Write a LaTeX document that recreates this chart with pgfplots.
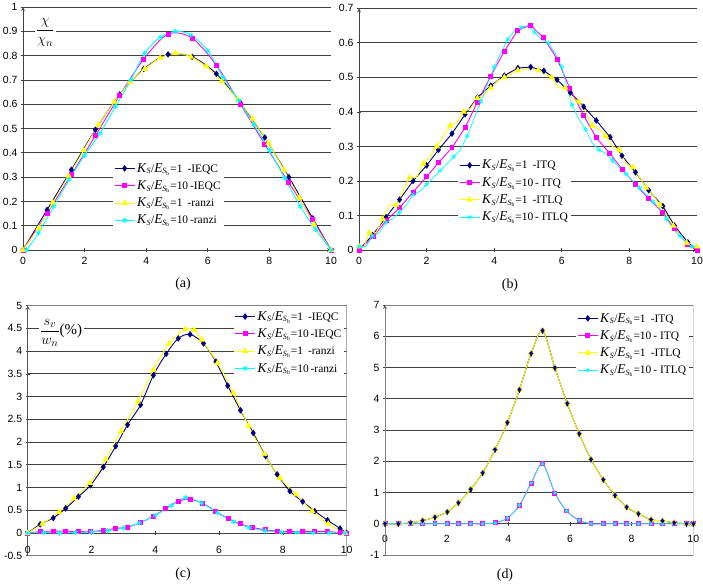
\documentclass[border=0pt]{standalone}
\usepackage{fontspec}
\setmainfont{Liberation Serif}
\setsansfont{Liberation Sans}
\usepackage{pgfplots}
\pgfplotsset{compat=1.18}
\definecolor{navyc}{RGB}{0,0,128}
\definecolor{magc}{RGB}{255,0,255}
\definecolor{yelc}{RGB}{255,255,0}
\definecolor{cyac}{RGB}{0,255,255}
\newcommand{\KE}[2]{{\fontsize{13.5}{14}\selectfont\textit{K}}\textsubscript{\textit{S}}/{\fontsize{13.5}{14}\selectfont\textit{E}}\textsubscript{\textit{S}\textsubscript{b}}=#1\,#2}
\pgfplotsset{
  base/.style={
    scale only axis, xmin=0, xmax=10, xtick={0,2,...,10},
    tick align=outside, major tick length=4bp,
    ymajorgrids, grid style={black!75, line width=0.8pt},
    tick label style={font=\sffamily\fontsize{10.5}{12}\selectfont},
    xticklabel style={yshift=-2bp},
    /pgf/number format/assume math mode=true,
    axis line style={black!75, line width=0.8pt, -},
    tick style={black!75, line width=0.7pt},
    legend cell align=left,
    legend style={draw=none, fill=white, font=\fontsize{11.5}{12}\selectfont,
      inner sep=1pt, row sep=3pt, anchor=north west},
    legend image code/.code={\draw[mark repeat=2,mark phase=2] plot coordinates {(0bp,0bp) (10bp,0bp) (20bp,0bp)};},
    every axis plot/.append style={line width=0.9pt},
  },
  pn/.style={navyc, mark=diamond*, mark size=2.6pt, mark options={fill=navyc, draw=navyc}},
  pm/.style={magc, mark=square*, mark size=2pt, mark options={fill=magc, draw=magc}},
  py/.style={yelc, mark=triangle*, mark size=2.8pt, mark options={fill=yelc, draw=yelc}},
  pc/.style={cyac, mark=asterisk, mark size=2.6pt, mark options={draw=cyac}},
}
\begin{document}
\begin{tikzpicture}
\useasboundingbox (0bp,0bp) rectangle (703bp,-584bp);
% ---------------- (a)
\begin{axis}[base, at={(23bp,-250bp)}, anchor=south west, width=308bp, height=243bp,
  axis lines=left, ymin=0, ymax=1, ytick={0,0.1,...,1.0},
  legend style={at={(0.292,0.37)}}]
\addplot[pn, smooth] coordinates {(0,0) (0.78,0.165) (1.57,0.33) (2.35,0.495) (3.14,0.64) (3.92,0.745) (4.71,0.805) (5.49,0.795) (6.28,0.725) (7.06,0.605) (7.85,0.463) (8.63,0.30) (9.41,0.13) (10,0)};
\addlegendentry{\KE{1}{\;-IEQC}}
\addplot[pm, smooth] coordinates {(0,0) (0.78,0.15) (1.57,0.31) (2.35,0.47) (3.14,0.636) (3.92,0.786) (4.71,0.889) (5.49,0.872) (6.28,0.76) (7.06,0.60) (7.85,0.435) (8.63,0.277) (9.41,0.124) (10,0)};
\addlegendentry{\KE{10}{-IEQC}}
\addplot[py, smooth] coordinates {(0,0) (0.5,0.09) (0.97,0.195) (1.48,0.305) (1.97,0.41) (2.45,0.515) (2.97,0.61) (3.47,0.69) (3.95,0.745) (4.45,0.79) (4.95,0.81) (5.45,0.795) (5.95,0.755) (6.45,0.695) (6.97,0.62) (7.45,0.54) (7.97,0.44) (8.47,0.33) (8.97,0.215) (9.45,0.105) (10,0)};
\addlegendentry{\KE{1}{\;-ranzi}}
\addplot[pc, smooth] coordinates {(0.12,0) (0.5,0.07) (1.0,0.18) (1.5,0.29) (2.0,0.39) (2.5,0.48) (3.0,0.59) (3.5,0.70) (3.95,0.81) (4.45,0.875) (4.95,0.90) (5.45,0.885) (6.0,0.82) (6.5,0.71) (7.0,0.615) (7.5,0.515) (8.0,0.41) (8.5,0.295) (9.0,0.18) (9.5,0.085) (10,0)};
\addlegendentry{\KE{10}{-ranzi}}
\node[fill=white, inner sep=1.5pt] at (axis cs:0.72,0.895) {\fontsize{15}{16}\selectfont$\displaystyle\frac{\chi}{\chi_n}$};
\end{axis}
% ---------------- (b)
\begin{axis}[base, at={(359bp,-250bp)}, anchor=south west, width=338bp, height=241.7bp,
  axis lines=left, ymin=0, ymax=0.7, ytick={0,0.1,...,0.7},
  legend style={at={(0.293,0.385)}}]
\addplot[pn] coordinates {(0,0) (0.4,0.043) (0.8,0.095) (1.2,0.146) (1.6,0.20) (2.0,0.245) (2.35,0.29) (2.75,0.337) (3.14,0.393) (3.5,0.442) (3.9,0.476) (4.3,0.505) (4.7,0.527) (5.08,0.53) (5.47,0.519) (5.86,0.493) (6.25,0.456) (6.65,0.415) (7.02,0.375) (7.43,0.327) (7.78,0.273) (8.18,0.225) (8.57,0.173) (8.99,0.127) (9.33,0.071) (9.73,0.022) (10,0)};
\addlegendentry{\KE{1}{\;-ITQ}}
\addplot[pm] coordinates {(0,0) (0.43,0.039) (0.8,0.085) (1.2,0.122) (1.6,0.168) (2.0,0.212) (2.35,0.253) (2.75,0.296) (3.14,0.355) (3.5,0.427) (3.9,0.504) (4.3,0.576) (4.7,0.637) (5.07,0.651) (5.46,0.615) (5.87,0.552) (6.24,0.468) (6.64,0.391) (7.02,0.325) (7.42,0.28) (7.8,0.232) (8.18,0.19) (8.56,0.15) (8.97,0.11) (9.33,0.063) (9.72,0.015) (10,0)};
\addlegendentry{\KE{10}{- ITQ}}
\addplot[py, mark repeat=2] coordinates {(0,0.01) (0.15,0.01) (0.3,0.05) (0.5,0.05) (0.7,0.09) (0.9,0.13) (1.1,0.13) (1.3,0.17) (1.5,0.21) (1.7,0.21) (1.9,0.25) (2.1,0.27) (2.3,0.30) (2.5,0.33) (2.7,0.36) (2.9,0.37) (3.1,0.40) (3.3,0.41) (3.5,0.44) (3.7,0.45) (3.9,0.47) (4.1,0.49) (4.3,0.50) (4.5,0.51) (4.7,0.52) (5.0,0.525) (5.3,0.52) (5.5,0.51) (5.7,0.50) (5.9,0.47) (6.1,0.47) (6.3,0.44) (6.5,0.43) (6.7,0.40) (6.9,0.36) (7.1,0.35) (7.3,0.33) (7.5,0.30) (7.7,0.29) (7.9,0.25) (8.1,0.24) (8.3,0.21) (8.5,0.18) (8.7,0.16) (8.9,0.13) (9.1,0.10) (9.3,0.07) (9.5,0.04) (9.7,0.02) (9.85,0.01) (10,0.01)};
\addlegendentry{\KE{1}{\;-ITLQ}}
\addplot[pc, mark repeat=2, line width=0.7pt] coordinates {(0,0.01) (0.2,0.01) (0.4,0.04) (0.6,0.05) (0.8,0.08) (1.0,0.09) (1.2,0.11) (1.4,0.13) (1.6,0.16) (1.8,0.17) (2.0,0.19) (2.2,0.21) (2.4,0.23) (2.6,0.25) (2.8,0.27) (3.0,0.29) (3.2,0.33) (3.4,0.38) (3.6,0.43) (3.8,0.48) (4.0,0.53) (4.2,0.57) (4.4,0.61) (4.6,0.635) (4.8,0.645) (5.0,0.65) (5.2,0.63) (5.4,0.61) (5.6,0.60) (5.8,0.57) (6.0,0.53) (6.1,0.49) (6.3,0.42) (6.5,0.38) (6.7,0.35) (6.9,0.31) (7.1,0.29) (7.3,0.28) (7.5,0.26) (7.7,0.24) (7.9,0.22) (8.1,0.20) (8.3,0.18) (8.5,0.16) (8.7,0.14) (8.9,0.12) (9.1,0.09) (9.3,0.06) (9.5,0.04) (9.7,0.02) (9.85,0.01) (10,0.01)};
\addlegendentry{\KE{10}{- ITLQ}}
\end{axis}
% ---------------- (c)
\begin{axis}[base, at={(27.7bp,-555.7bp)}, anchor=south west, width=319bp, height=250bp,
  axis x line=middle, axis y line=left, hide obscured x ticks=false, hide obscured y ticks=false,
  ymin=-0.5, ymax=5, ytick={-0.5,0,0.5,...,5},
  xticklabel style={yshift=-6bp},
  legend style={at={(0.645,0.99)}}]
\addplot[pn, smooth] coordinates {(0,0) (0.39,0.19) (0.8,0.33) (1.19,0.54) (1.59,0.8) (1.97,1.05) (2.37,1.45) (2.76,1.91) (3.13,2.38) (3.54,2.82) (3.94,3.47) (4.34,3.94) (4.72,4.28) (5.09,4.37) (5.51,4.17) (5.9,3.77) (6.27,3.24) (6.67,2.7) (7.07,2.2) (7.46,1.69) (7.82,1.29) (8.22,0.92) (8.62,0.69) (9.0,0.48) (9.4,0.28) (9.79,0.1) (10,0)};
\addlegendentry{\KE{1}{\;-IEQC}}
\addplot[pm, smooth] coordinates {(0,0) (0.4,0.03) (0.8,0.04) (1.17,0.04) (1.59,0.03) (1.97,0.03) (2.37,0.06) (2.76,0.1) (3.13,0.13) (3.54,0.23) (3.94,0.37) (4.33,0.54) (4.72,0.70) (5.09,0.74) (5.49,0.65) (5.88,0.48) (6.28,0.32) (6.66,0.2) (7.06,0.12) (7.45,0.07) (7.83,0.04) (8.22,0.03) (8.62,0.03) (9.0,0.03) (9.4,0.03) (9.8,0.01) (10,0)};
\addlegendentry{\KE{10}{-IEQC}}
\addplot[py, smooth] coordinates {(0,0) (0.46,0.2) (0.98,0.46) (1.45,0.76) (1.95,1.1) (2.44,1.62) (2.92,2.24) (3.45,2.89) (3.94,3.59) (4.43,4.17) (4.93,4.48) (5.22,4.47) (5.45,4.25) (5.95,3.74) (6.45,3.08) (6.92,2.36) (7.42,1.73) (7.91,1.21) (8.41,0.85) (8.92,0.48) (9.42,0.2) (9.95,0)};
\addlegendentry{\KE{1}{\;-ranzi}}
\addplot[pc, smooth] coordinates {(0,0) (0.5,0.01) (1.0,0) (1.5,0.01) (2.0,0.02) (2.5,0.05) (3.0,0.11) (3.5,0.22) (4.0,0.39) (4.5,0.6) (4.95,0.78) (5.45,0.66) (5.95,0.44) (6.45,0.25) (6.95,0.12) (7.45,0.05) (7.95,0.02) (8.45,0.01) (8.95,0) (9.45,0) (9.95,0)};
\addlegendentry{\KE{10}{-ranzi}}
\draw[black!50, line width=0.7pt] (rel axis cs:0,0) rectangle (rel axis cs:1,1);
\node[fill=white, inner sep=1.5pt] at (axis cs:1.05,4.4) {\fontsize{15}{16}\selectfont$\displaystyle\frac{s_v}{w_n}$(\%)};
\end{axis}
% ---------------- (d)
\begin{axis}[base, at={(385bp,-555bp)}, anchor=south west, width=308.3bp, height=250bp,
  axis x line=middle, axis y line=left, hide obscured x ticks=false, hide obscured y ticks=false,
  ymin=-1, ymax=7, ytick={-1,0,...,7},
  xticklabel style={yshift=-4bp},
  legend style={at={(0.62,0.98)}}]
\addplot[pn, smooth] coordinates {(0,0) (0.43,0) (0.83,0.03) (1.22,0.1) (1.62,0.21) (2.02,0.38) (2.38,0.67) (2.78,1.1) (3.17,1.63) (3.57,2.37) (3.97,3.24) (4.36,4.29) (4.74,5.45) (5.11,6.18) (5.51,4.99) (5.91,3.85) (6.3,2.88) (6.68,2.06) (7.08,1.41) (7.46,0.91) (7.84,0.53) (8.22,0.32) (8.63,0.13) (9.0,0.09) (9.38,0.03) (9.78,0) (10,0)};
\addlegendentry{\KE{1}{\;-ITQ}}
\addplot[pm, smooth] coordinates {(0,0) (0.43,0) (0.83,0) (1.22,0) (1.62,0) (2.02,0) (2.38,0) (2.78,0) (3.17,0) (3.57,0.03) (3.97,0.18) (4.36,0.59) (4.74,1.3) (5.11,1.92) (5.51,0.98) (5.89,0.41) (6.3,0.11) (6.68,0) (7.08,0) (7.46,0) (7.84,0) (8.22,0) (8.63,0) (9.0,0) (9.38,0) (9.78,0) (10,0)};
\addlegendentry{\KE{10}{- ITQ}}
\addplot[py, smooth] coordinates {(0,0) (0.43,0) (0.83,0.03) (1.22,0.1) (1.62,0.21) (2.02,0.38) (2.38,0.67) (2.78,1.1) (3.17,1.63) (3.57,2.37) (3.97,3.24) (4.36,4.29) (4.74,5.45) (5.11,6.18) (5.51,4.99) (5.91,3.85) (6.3,2.88) (6.68,2.06) (7.08,1.41) (7.46,0.91) (7.84,0.53) (8.22,0.32) (8.63,0.13) (9.0,0.09) (9.38,0.03) (9.78,0) (10,0)};
\addlegendentry{\KE{1}{\;-ITLQ}}
\addplot[pc, smooth, line width=0.7pt, mark size=2.2pt] coordinates {(0,0) (0.43,0) (0.83,0) (1.22,0) (1.62,0) (2.02,0) (2.38,0) (2.78,0) (3.17,0) (3.57,0.03) (3.97,0.18) (4.36,0.59) (4.74,1.3) (5.11,1.92) (5.51,0.98) (5.89,0.41) (6.3,0.11) (6.68,0) (7.08,0) (7.46,0) (7.84,0) (8.22,0) (8.63,0) (9.0,0) (9.38,0) (9.78,0) (10,0)};
\addlegendentry{\KE{10}{- ITLQ}}
\addplot[navyc, only marks, mark=diamond*, mark size=1.8pt, forget plot] coordinates {(0,0) (0.43,0) (0.83,0.03) (1.22,0.1) (1.62,0.21) (2.02,0.38) (2.38,0.67) (2.78,1.1) (3.17,1.63) (3.57,2.37) (3.97,3.24) (4.36,4.29) (4.74,5.45) (5.11,6.18) (5.51,4.99) (5.91,3.85) (6.3,2.88) (6.68,2.06) (7.08,1.41) (7.46,0.91) (7.84,0.53) (8.22,0.32) (8.63,0.13) (9.0,0.09) (9.38,0.03) (9.78,0) (10,0)};
\draw[black!50, line width=0.7pt] (rel axis cs:0,0) rectangle (rel axis cs:1,1);
\end{axis}
% sub-labels
\node[font=\fontsize{14}{15}\selectfont] at (183bp,-284bp) {(a)};
\node[font=\fontsize{14}{15}\selectfont] at (510bp,-285bp) {(b)};
\node[font=\fontsize{14}{15}\selectfont] at (183bp,-574bp) {(c)};
\node[font=\fontsize{14}{15}\selectfont] at (505bp,-575bp) {(d)};
\end{tikzpicture}
\end{document}
